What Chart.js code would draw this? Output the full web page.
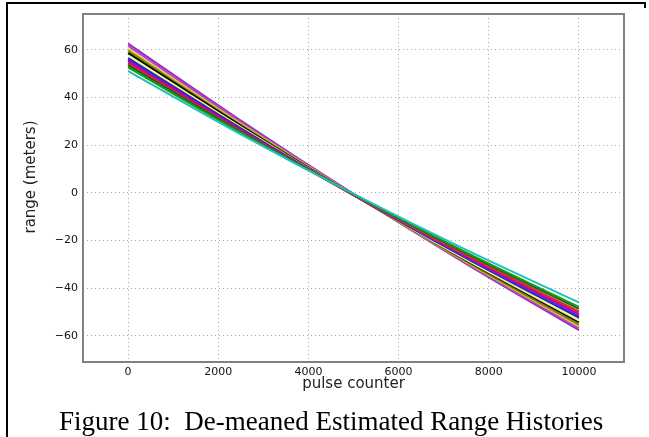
<!DOCTYPE html>
<html>
<head>
<meta charset="utf-8">
<script src="https://cdn.jsdelivr.net/npm/chart.js@4.4.0/dist/chart.umd.min.js"></script>
<style>
  html, body { margin: 0; padding: 0; background: #fff; }
  body { width: 649px; height: 437px; position: relative; overflow: hidden; }
  #frame-left { position: absolute; left: 6px; top: 2px; width: 2px; height: 435px; background: #000; }
  #frame-top { position: absolute; left: 6px; top: 2px; width: 640px; height: 2px; background: #000; }
  #frame-right { position: absolute; left: 644px; top: 2px; width: 2px; height: 6px; background: #000; }
  #chart-box { position: absolute; left: 0; top: 0; width: 649px; height: 437px; }
  #y-title { position: absolute; left: -70px; top: 168px; width: 200px; line-height: 18px; text-align: center;
             transform: rotate(-90deg); font-family: "DejaVu Sans", sans-serif; font-size: 15px; color: #222; }
  #caption { position: absolute; left: 59px; top: 408px; line-height: 27px; white-space: pre;
             font-family: "Liberation Serif", serif; font-size: 27px; color: #000; }
</style>
</head>
<body>
<div id="chart-box"><canvas id="range-chart"></canvas></div>
<div id="y-title">range (meters)</div>
<div id="frame-left"></div>
<div id="frame-top"></div>
<div id="frame-right"></div>
<div id="caption">Figure 10:  De-meaned Estimated Range Histories</div>

<script>
// pulse counter where each history is read
const pulseCounter = [0, 2500, 5000, 7500, 10000];

// range (meters), one array per history
const rangePurple      = [62.6, 30.3, -0.5, -29.8, -57.6];
const rangeViolet      = [61.6, 29.7, -0.6, -29.5, -56.9];
const rangeYellowGreen = [60.3, 29.0, -0.8, -29.1, -55.9];
const rangeOlive       = [59.5, 28.5, -0.9, -28.8, -55.3];
const rangeBlack       = [58.6, 28.1, -0.9, -28.3, -54.3];
const rangePaleYellow  = [57.7, 27.6, -1.0, -28.1, -53.6];
const rangeNavy        = [56.5, 27.0, -1.0, -27.4, -52.4];
const rangeBlue        = [55.8, 26.6, -1.0, -27.2, -51.8];
const rangeMagenta     = [55.2, 26.4, -0.9, -26.7, -51.0];
const rangeCrimson     = [54.4, 26.0, -0.9, -26.3, -50.2];
const rangeRed         = [53.9, 25.7, -1.0, -26.1, -49.8];
const rangeDarkGreen   = [53.4, 25.6, -0.7, -25.4, -48.7];
const rangeGreen       = [52.6, 25.2, -0.6, -25.0, -47.9];
const rangeCyan        = [51.0, 24.5, -0.5, -24.0, -46.0];

const histories = [
    rangeCyan, rangeGreen, rangeDarkGreen, rangeRed, rangeCrimson, rangeMagenta, rangeBlue,
    rangeNavy, rangePaleYellow, rangeBlack, rangeOlive, rangeYellowGreen, rangeViolet, rangePurple
];
const historyColors = [
    '#20c0c0', '#10a010', '#206020', '#e03030', '#d0105a', '#c000a0', '#3030ff',
    '#2020b0', '#f0f080', '#000000', '#808000', '#c8c830', '#c040c0', '#9030c8'
];

const xTicks = [0, 2000, 4000, 6000, 8000, 10000];
const yTicks = [-60, -40, -20, 0, 20, 40, 60];

const minusSign = v => String(v).replace('-', '\u2212');

// matplotlib style box round the plot area
const axesFrame = {
    id: 'axesFrame',
    afterDatasetsDraw(chart) {
        const {ctx, chartArea} = chart;
        ctx.save();
        ctx.strokeStyle = '#808080';
        ctx.lineWidth = 2;
        ctx.strokeRect(chartArea.left, chartArea.top, chartArea.right - chartArea.left, chartArea.bottom - chartArea.top);
        ctx.restore();
    }
};

Chart.defaults.font.family = 'DejaVu Sans';
Chart.defaults.color = '#111';

new Chart(document.getElementById('range-chart'), {
    type: 'line',
    data: {
        datasets: histories.map((h, i) => ({
            data: pulseCounter.map((x, j) => ({x: x, y: h[j]})),
            borderColor: historyColors[i],
            borderWidth: 2,
            pointRadius: 0,
            fill: false,
            cubicInterpolationMode: 'monotone'
        }))
    },
    options: {
        responsive: true,
        maintainAspectRatio: false,
        animation: false,
        layout: { padding: { left: 0, top: 14, right: 25, bottom: 0 } },
        plugins: { legend: { display: false }, tooltip: { enabled: false } },
        scales: {
            x: {
                type: 'linear',
                min: -1000,
                max: 11000,
                afterBuildTicks: scale => { scale.ticks = xTicks.map(v => ({value: v})); },
                afterFit: scale => { scale.height = 75; },
                ticks: { font: { size: 11 }, padding: 4, callback: minusSign },
                grid: { color: '#a8a8a8', lineWidth: 1, drawTicks: false },
                border: { display: false, dash: [1, 3] },
                title: { display: true, text: 'pulse counter', font: { size: 15 }, color: '#222', padding: { bottom: 44 } }
            },
            y: {
                min: -71,
                max: 75,
                afterBuildTicks: scale => { scale.ticks = yTicks.map(v => ({value: v})); },
                afterFit: scale => { scale.width = 83; },
                ticks: { font: { size: 11 }, padding: 5, callback: minusSign },
                grid: { color: '#a8a8a8', lineWidth: 1, drawTicks: false },
                border: { display: false, dash: [1, 3] }
            }
        }
    },
    plugins: [axesFrame]
});
</script>
</body>
</html>
